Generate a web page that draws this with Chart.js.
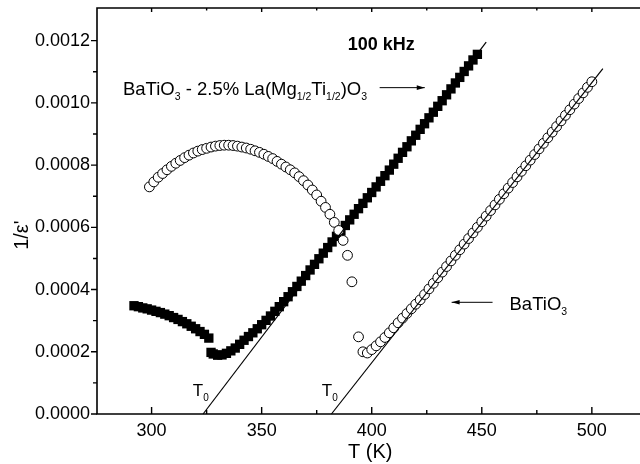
<!DOCTYPE html>
<html><head><meta charset="utf-8">
<script src="https://cdn.jsdelivr.net/npm/chart.js@4.4.0/dist/chart.umd.min.js"></script>
<style>html,body{margin:0;padding:0;background:#fff;overflow:hidden;width:640px;height:464px}</style>
</head><body>
<canvas id="c" width="646" height="464"></canvas>
<script>
// ---- data (y values in units of 1e-4) ----
const dopedT = [292,294,296,298,300,302,304,306,308,310,312,314,316,318,320,322,324,326,327,328,330,332,334,336,338,340,342,344,346,348,350,352,354,356,358,360,362,364,366,368,370,372,374,376,378,380,382,384,386,388,390,392,394,396,398,400,402,404,406,408,410,412,414,416,418,420,422,424,426,428,430,432,434,436,438,440,442,444,446,448];
const dopedV = [3.48,3.45,3.41,3.38,3.34,3.30,3.26,3.21,3.16,3.10,3.04,2.97,2.90,2.82,2.74,2.65,2.56,2.44,1.98,1.93,1.89,1.90,1.95,2.03,2.12,2.24,2.37,2.49,2.61,2.74,2.87,3.01,3.15,3.30,3.45,3.61,3.77,3.93,4.10,4.27,4.45,4.63,4.81,4.99,5.17,5.35,5.53,5.71,5.89,6.06,6.24,6.42,6.60,6.77,6.95,7.12,7.30,7.48,7.66,7.84,8.03,8.22,8.41,8.59,8.78,8.96,9.15,9.33,9.52,9.70,9.89,10.07,10.26,10.45,10.64,10.82,11.01,11.19,11.38,11.56];
const btoT = [299,301,303,305,307,309,311,313,315,317,319,321,323,325,327,329,331,333,335,337,339,341,343,345,347,349,351,353,355,357,359,361,363,365,367,369,371,373,375,377,379,381,383,385,387,389,391,394,396,398,400,402,404,406,408,410,412,414,416,418,420,422,424,426,428,430,432,434,436,438,440,442,444,446,448,450,452,454,456,458,460,462,464,466,468,470,472,474,476,478,480,482,484,486,488,490,492,494,496,498,500];
const btoV = [7.30,7.46,7.61,7.73,7.85,7.96,8.06,8.15,8.24,8.32,8.39,8.45,8.50,8.54,8.58,8.61,8.63,8.64,8.64,8.63,8.61,8.58,8.55,8.51,8.46,8.41,8.35,8.28,8.21,8.12,8.03,7.94,7.85,7.75,7.63,7.50,7.36,7.20,7.04,6.84,6.64,6.42,6.16,5.90,5.58,5.10,4.25,2.48,2.00,1.96,2.07,2.19,2.32,2.46,2.61,2.77,2.93,3.08,3.23,3.38,3.53,3.67,3.84,4.02,4.20,4.38,4.56,4.74,4.92,5.10,5.28,5.46,5.64,5.82,6.00,6.18,6.36,6.54,6.72,6.90,7.08,7.26,7.44,7.62,7.80,7.98,8.16,8.34,8.52,8.70,8.88,9.06,9.24,9.42,9.60,9.78,9.96,10.14,10.32,10.50,10.68];
const dopedFitT = [323.4, 452];
const dopedFitV = [0, 11.95];
const btoFitT = [381.7, 505];
const btoFitV = [0, 11.10];
const xTicks = [300,350,400,450,500];
const xTickLabels = ['300','350','400','450','500'];
const xMinor = [275,325,375,425,475];
const yTicks = [0,2,4,6,8,10,12];
const yTickLabels = ['0.0000','0.0002','0.0004','0.0006','0.0008','0.0010','0.0012'];
const yMinor = [1,3,5,7,9,11];
const xTitle = 'T (K)';
const yTitle = "1/\u03B5'";
const freqLabel = '100 kHz';
const dopedLabel = [['BaTiO',0],['3',1],[' - 2.5% La(Mg',0],['1/2',1],['Ti',0],['1/2',1],[')O',0],['3',1]];
const btoLabel = [['BaTiO',0],['3',1]];
const t0Label = [['T',0],['0',1]];

const FONT = "'Liberation Sans', Arial, Helvetica, sans-serif";
const pts = (xs, ys) => xs.map((x, i) => ({x, y: ys[i]}));

function rich(ctx, parts, x, y, size, subSize) {
  let cx = x;
  parts.forEach(([t, s]) => {
    ctx.font = (s ? subSize : size) + 'px ' + FONT;
    ctx.fillText(t, cx, s ? y + 5 : y);
    cx += ctx.measureText(t).width;
  });
}
function arrow(ctx, x1, y, x2) {
  ctx.beginPath(); ctx.moveTo(x1, y); ctx.lineTo(x2, y); ctx.lineWidth = 1; ctx.stroke();
  const d = Math.sign(x2 - x1);
  ctx.beginPath(); ctx.moveTo(x2, y); ctx.lineTo(x2 - d * 8, y - 2.3); ctx.lineTo(x2 - d * 8, y + 2.3); ctx.closePath(); ctx.fill();
}

const deco = {
  id: 'deco',
  afterDraw(chart) {
    const {ctx, chartArea: a, scales: {x, y}} = chart;
    ctx.save();
    ctx.strokeStyle = '#000'; ctx.fillStyle = '#000';
    ctx.lineWidth = 1.6;
    ctx.beginPath();
    ctx.moveTo(a.right + 6, a.top); ctx.lineTo(a.left, a.top); ctx.lineTo(a.left, a.bottom); ctx.lineTo(a.right + 6, a.bottom);
    ctx.stroke();
    ctx.lineWidth = 1.4;
    ctx.beginPath();
    xTicks.forEach(v => { const p = x.getPixelForValue(v); ctx.moveTo(p, a.bottom); ctx.lineTo(p, a.bottom - 7); ctx.moveTo(p, a.top); ctx.lineTo(p, a.top + 4); });
    xMinor.forEach(v => { const p = x.getPixelForValue(v); if (p > a.left + 1) { ctx.moveTo(p, a.bottom); ctx.lineTo(p, a.bottom - 4); ctx.moveTo(p, a.top); ctx.lineTo(p, a.top + 2.5); } });
    yTicks.forEach(v => { const p = y.getPixelForValue(v); ctx.moveTo(a.left, p); ctx.lineTo(a.left - 6, p); });
    yMinor.forEach(v => { const p = y.getPixelForValue(v); ctx.moveTo(a.left, p); ctx.lineTo(a.left - 4, p); });
    ctx.stroke();
    ctx.textBaseline = 'middle';
    ctx.textAlign = 'center';
    ctx.font = '20px ' + FONT;
    ctx.fillText(xTitle, x.getPixelForValue(399.3), a.bottom + 38);
    ctx.save();
    ctx.translate(22, y.getPixelForValue(5.75));
    ctx.rotate(-Math.PI / 2);
    ctx.fillText(yTitle, 0, 0);
    ctx.restore();
    ctx.textAlign = 'left';
    ctx.textBaseline = 'alphabetic';
    ctx.font = 'bold 18px ' + FONT;
    ctx.fillText(freqLabel, x.getPixelForValue(389.1), y.getPixelForValue(11.91) + 6.5);
    rich(ctx, dopedLabel, x.getPixelForValue(287.0), y.getPixelForValue(10.47) + 6.5, 18.5, 10.5);
    arrow(ctx, x.getPixelForValue(403.6), y.getPixelForValue(10.49), x.getPixelForValue(424.1));
    rich(ctx, btoLabel, x.getPixelForValue(462.6), y.getPixelForValue(3.56) + 6.5, 18.5, 10.5);
    arrow(ctx, x.getPixelForValue(454.9), y.getPixelForValue(3.59), x.getPixelForValue(436.3));
    rich(ctx, t0Label, x.getPixelForValue(318.7), y.getPixelForValue(0.77) + 6, 17, 10);
    rich(ctx, t0Label, x.getPixelForValue(377.3), y.getPixelForValue(0.77) + 6, 17, 10);
    ctx.restore();
  }
};

new Chart(document.getElementById('c'), {
  type: 'scatter',
  data: {
    datasets: [
      {data: pts(dopedFitT, dopedFitV), showLine: true, borderColor: '#000', borderWidth: 1.2, pointRadius: 0, order: 0},
      {data: pts(btoFitT, btoFitV), showLine: true, borderColor: '#000', borderWidth: 1.2, pointRadius: 0, order: 0},
      {data: pts(btoT, btoV), pointStyle: 'circle', pointRadius: 4.9, borderWidth: 1, borderColor: '#000', backgroundColor: '#fff', order: 1},
      {data: pts(dopedT, dopedV), pointStyle: 'rect', pointRadius: 6.6, borderWidth: 0, borderColor: '#000', backgroundColor: '#000', order: 2}
    ]
  },
  options: {
    responsive: false, animation: false, devicePixelRatio: 1,
    events: [],
    clip: false,
    layout: {padding: {top: 8, right: 0, left: 0, bottom: 0}},
    plugins: {legend: {display: false}, tooltip: {enabled: false}},
    scales: {
      x: {
        type: 'linear', min: 275.2, max: 521.6,
        afterFit: s => { s.height = 50; s.paddingLeft = 0; s.paddingRight = 0; },
        afterBuildTicks: s => { s.ticks = xTicks.map(v => ({value: v})); },
        border: {display: false},
        grid: {display: false, drawTicks: false},
        ticks: {color: '#000', padding: 6, font: {family: FONT, size: 18}, maxRotation: 0, autoSkip: false,
          callback: (v) => xTickLabels[xTicks.indexOf(v)]}
      },
      y: {
        type: 'linear', min: 0, max: 13.05,
        afterFit: s => { s.width = 97; s.paddingTop = 0; s.paddingBottom = 0; },
        afterBuildTicks: s => { s.ticks = yTicks.map(v => ({value: v})); },
        border: {display: false},
        grid: {display: false, drawTicks: false},
        ticks: {color: '#000', padding: 7, font: {family: FONT, size: 18}, autoSkip: false,
          callback: (v) => yTickLabels[yTicks.indexOf(v)]}
      }
    }
  },
  plugins: [deco]
});
</script>
</body></html>
